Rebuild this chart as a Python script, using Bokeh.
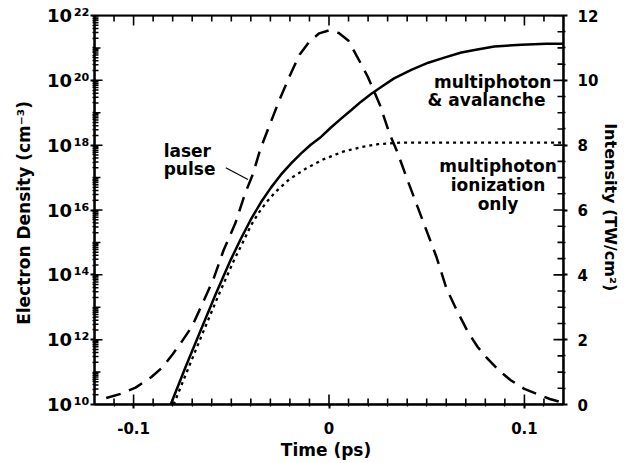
from bokeh.plotting import figure
from bokeh.models import LinearAxis, Range1d, FixedTicker, CustomJSTickFormatter, LinearScale
from bokeh.core.properties import value
from bokeh.embed import file_html
from bokeh.resources import INLINE

# ---------------- data ----------------
# multiphoton & avalanche (solid)
t_aval = [-0.081, -0.0733, -0.0656, -0.0579, -0.0503, -0.0451, -0.0400, -0.0349,
          -0.0297, -0.0246, -0.0195, -0.0144, -0.0092, -0.0041, 0.0010, 0.0062,
          0.0113, 0.0164, 0.0215, 0.0267, 0.0333, 0.0421, 0.0508, 0.0590, 0.0677,
          0.0759, 0.0846, 0.0985, 0.1113, 0.120]
n_aval = [1.0e10, 1.48e11, 2.0e12, 2.6e13, 2.9e14, 1.3e15, 5.1e15, 1.7e16,
          4.9e16, 1.23e17, 2.7e17, 5.5e17, 1.05e18, 1.8e18, 3.5e18, 6.6e18,
          1.2e19, 2.2e19, 3.8e19, 6.2e19, 1.15e20, 2.1e20, 3.5e20, 5.0e20, 7.2e20,
          8.9e20, 1.1e21, 1.26e21, 1.35e21, 1.35e21]

# multiphoton ionization only (dotted)
t_mpi = [-0.0795, -0.0718, -0.0641, -0.0564, -0.0487, -0.0436, -0.0400, -0.0359,
         -0.0318, -0.0272, -0.0205, -0.0118, -0.0031, 0.0072, 0.0164, 0.0251,
         0.0369, 0.120]
n_mpi = [1.0e10, 1.4e11, 1.9e12, 2.45e13, 2.75e14, 1.15e15, 3.3e15, 8.3e15,
         1.8e16, 3.7e16, 8.7e16, 1.9e17, 3.6e17, 6.3e17, 8.7e17, 1.07e18,
         1.2e18, 1.2e18]

# laser pulse intensity (dashed, right axis, TW/cm^2)
t_laser = [-0.114, -0.106, -0.099, -0.091, -0.085, -0.080, -0.075, -0.070, -0.065,
           -0.059, -0.054, -0.048, -0.043, -0.039, -0.035, -0.030, -0.025, -0.020,
           -0.015, -0.010, -0.005, 0.000, 0.005, 0.010, 0.016, 0.020, 0.026, 0.031,
           0.035, 0.040, 0.045, 0.050, 0.055, 0.060, 0.065, 0.071, 0.076, 0.081,
           0.087, 0.093, 0.100, 0.107, 0.113, 0.120]
i_laser = [0.20, 0.34, 0.52, 0.84, 1.16, 1.55, 1.97, 2.42, 3.08,
           3.89, 4.75, 5.58, 6.50, 7.10, 7.90, 8.68, 9.45, 10.15,
           10.80, 11.20, 11.45, 11.54, 11.46, 11.22, 10.55, 10.09, 9.25, 8.35,
           7.78, 6.95, 6.15, 5.35, 4.55, 3.60, 2.95, 2.25, 1.78, 1.42,
           1.05, 0.75, 0.48, 0.31, 0.17, 0.05]

x_major = [-0.1, 0.0, 0.1]
x_labels = ["-0.1", "0", "0.1"]
y_left_major = [1e10, 1e12, 1e14, 1e16, 1e18, 1e20, 1e22]
y_right_major = [0, 2, 4, 6, 8, 10, 12]

FONT = "DejaVu Sans"
X0, X1 = -0.12, 0.12
Y0, Y1 = 1e10, 1e22
I0, I1 = 0, 12
FW, FH = 469, 389  # approximate frame size in px

p = figure(width=636, height=463, y_axis_type="log",
           x_range=Range1d(X0, X1), y_range=Range1d(Y0, Y1),
           output_backend="svg", toolbar_location=None,
           min_border_left=94, min_border_right=73, min_border_top=15,
           min_border_bottom=59)
p.extra_y_ranges = {"int": Range1d(I0, I1)}
p.extra_y_scales = {"int": LinearScale()}
p.xgrid.visible = False
p.ygrid.visible = False
p.outline_line_color = "black"
p.outline_line_width = 2
p.background_fill_color = "white"
p.border_fill_color = "white"

x_minor = [round(X0 + 0.01 * i, 2) for i in range(1, 24)]
yl_decades = [10.0 ** d for d in range(11, 22)]
yl_minor = [m * 10.0 ** d for d in range(10, 22) for m in range(2, 10)]
yr_minor = [0.5 * i for i in range(1, 24)]


def style(ax, major_out=4, minor_out=2):
    ax.axis_line_color = "black"
    ax.axis_line_width = 2
    ax.major_tick_in = 0
    ax.major_tick_out = major_out
    ax.minor_tick_in = 0
    ax.minor_tick_out = minor_out
    ax.major_tick_line_color = "black"
    ax.minor_tick_line_color = "black"
    ax.major_tick_line_width = 2
    ax.minor_tick_line_width = 1.3
    ax.major_label_text_font = FONT
    ax.major_label_text_font_style = "bold"
    ax.major_label_text_color = "black"
    ax.axis_label_text_font = FONT
    ax.axis_label_text_font_style = "bold"
    ax.axis_label_text_color = "black"


# bottom axis
xa = p.xaxis[0]
xa.ticker = FixedTicker(ticks=x_major, minor_ticks=x_minor)
style(xa)
xa.major_label_text_font_size = "15px"
xa.major_label_standoff = 13
xa.axis_label = "Time  (ps)"
xa.axis_label_text_font_size = "17px"
xa.axis_label_standoff = 3
xa.major_label_overrides = dict(zip(x_major, x_labels))

# left axis (log)
ya = p.yaxis[0]
ya.ticker = FixedTicker(ticks=y_left_major, minor_ticks=yl_decades + yl_minor)
style(ya)
ya.major_label_text_font_size = "18px"
ya.major_label_standoff = 1
ya.formatter = CustomJSTickFormatter(code="""
const sup = {"0":"\u2070","1":"\u00b9","2":"\u00b2","3":"\u00b3","4":"\u2074",
             "5":"\u2075","6":"\u2076","7":"\u2077","8":"\u2078","9":"\u2079"};
const e = Math.round(Math.log10(tick));
return "10\u200a" + String(e).split("").map(c => sup[c]).join("");
""")
ya.axis_label = "Electron Density  (cm\u207b\u00b3)"
ya.axis_label_text_font_size = "17px"
ya.axis_label_standoff = 10

# right axis (intensity)
ra = LinearAxis(y_range_name="int",
                ticker=FixedTicker(ticks=y_right_major, minor_ticks=yr_minor))
style(ra)
ra.major_label_text_font_size = "15px"
ra.major_label_standoff = 10
ra.axis_label = "Intensity  (TW/cm\u00b2)"
ra.axis_label_text_font_size = "16px"
ra.axis_label_standoff = 0
p.add_layout(ra, "right")

# curves
p.line(t_laser, i_laser, y_range_name="int", line_color="black",
       line_width=2.5, line_dash="15 9")
p.line(t_aval, n_aval, line_color="black", line_width=2.5)
p.line(t_mpi, n_mpi, line_color="black", line_width=2.3, line_dash="3 4")

# annotations
txt = dict(text_font=value(FONT), text_font_style="bold", text_font_size="17px",
           text_color="black", text_baseline="alphabetic")
p.text(x=[-0.0846, -0.0846], y=[6.8e17, 1.9e17], text=["laser", "pulse"],
       text_align="left", **txt)
p.line(x=[-0.0528, -0.0415], y=[2.0e17, 8.7e16], line_color="black", line_width=1.2)
p.text(x=[0.1138, 0.1138], y=[9.1e19, 2.4e19],
       text=["multiphoton", "&  avalanche"], text_align="right", **txt)
p.text(x=[0.0865, 0.0865, 0.0865], y=[2.2e17, 5.8e16, 1.5e16],
       text=["multiphoton", "ionization", "only"], text_align="center", **txt)

# inward tick marks as continuous "comb" polylines running along each frame edge
dx = (X1 - X0) / FW          # data units per px along x
dlog = 12.0 / FH             # decades per px along left y


def comb_x(edge_y, factor_per_px, ticks, lengths, width):
    px, py = [X0], [edge_y]
    for x, L in zip(ticks, lengths):
        px += [x, x, x]
        py += [edge_y, edge_y * factor_per_px ** L, edge_y]
    px.append(X1)
    py.append(edge_y)
    p.line(px, py, line_color="black", line_width=width)


def comb_y(edge_x, sign, ticks, lengths, width, rng="default"):
    px, py = [], []
    for y, L in zip(ticks, lengths):
        px += [edge_x, edge_x + sign * L * dx, edge_x]
        py += [y, y, y]
    p.line(px, py, line_color="black", line_width=width, y_range_name=rng)


xt_all = sorted(set(x_minor) | set(x_major))
xt_len = [10 if any(abs(x - m) < 1e-9 for m in x_major) else 6 for x in xt_all]
up = 10 ** dlog
comb_x(Y0, up, xt_all, xt_len, 1.6)
comb_x(Y1, 1 / up, xt_all, xt_len, 1.6)

yl_all = sorted(yl_minor + yl_decades)
yl_len = [8 if y in y_left_major else (6 if y in yl_decades else 4) for y in yl_all]
comb_y(X0, 1, yl_all, yl_len, 1.5)

yr_all = sorted(set(yr_minor) | set(y_right_major))
yr_len = [10 if y in y_right_major else 6 for y in yr_all]
comb_y(X1, -1, yr_all, yr_len, 1.6, "int")

open("out.html", "w").write(file_html(p, INLINE))
